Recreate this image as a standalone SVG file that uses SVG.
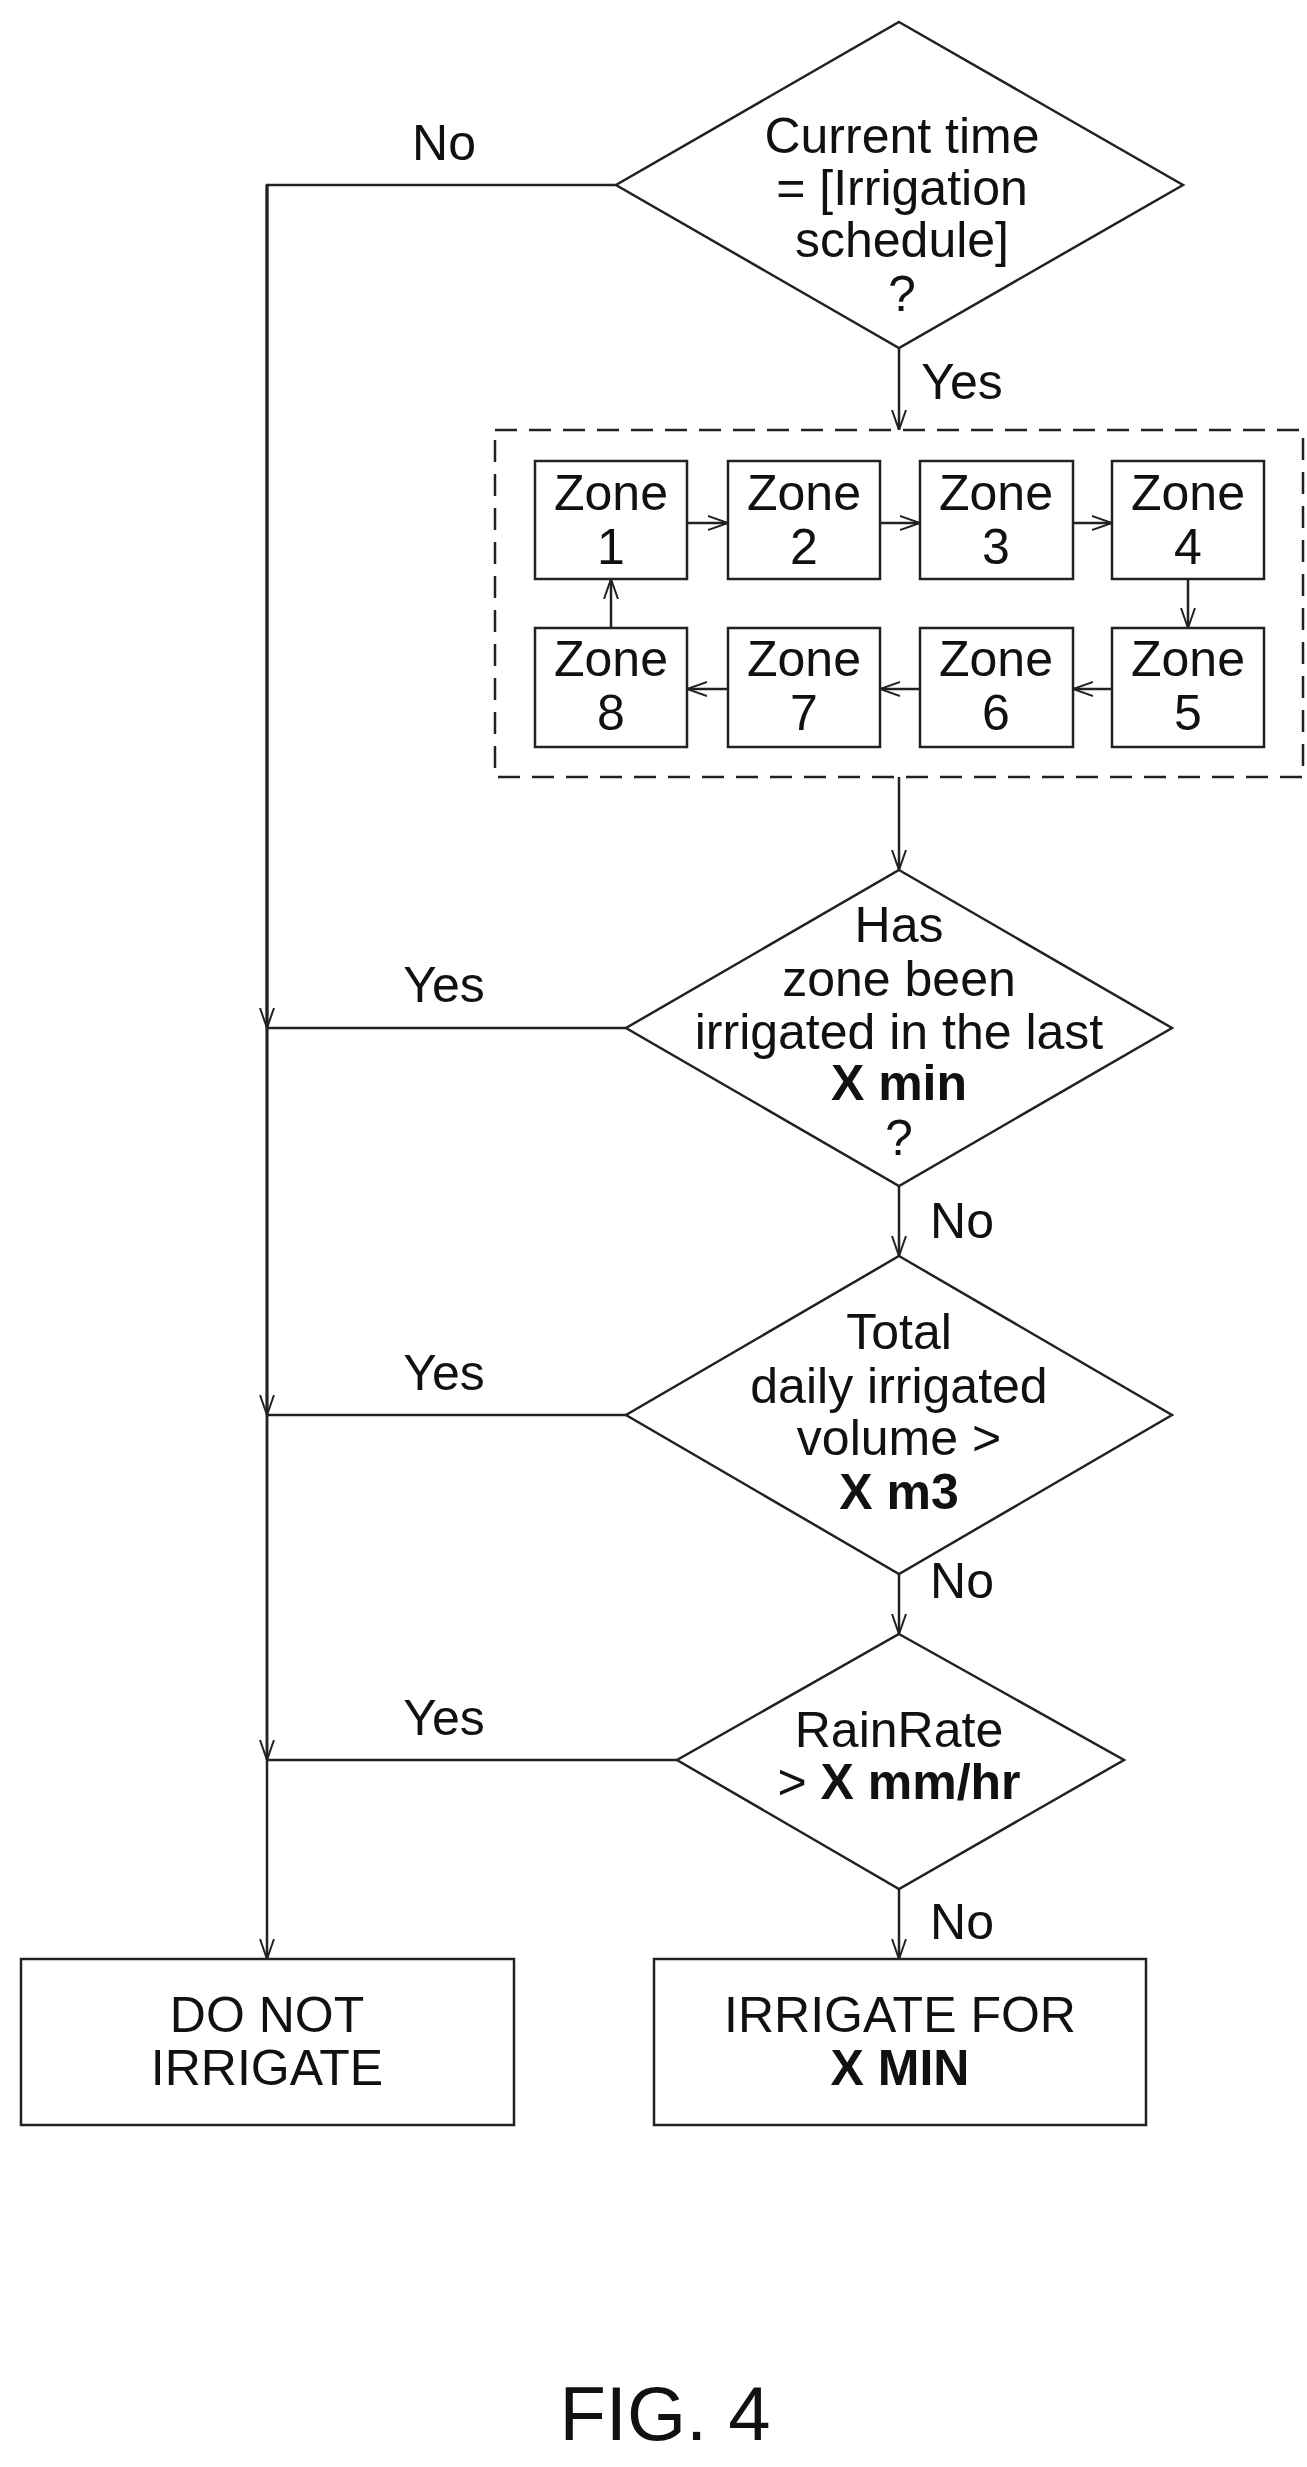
<svg xmlns="http://www.w3.org/2000/svg" width="1307" height="2467" viewBox="0 0 1307 2467">
<style>
text{font-family:"Liberation Sans",Arial,sans-serif;font-size:50px;fill:#111;text-anchor:middle}
.b{font-weight:bold}
.s{fill:#fff;stroke:#222;stroke-width:2.5}
.c{fill:none;stroke:#222;stroke-width:2.5}
</style>
<defs>
<marker id="a" viewBox="0 0 20 20" refX="20" refY="10" markerWidth="20" markerHeight="20" markerUnits="userSpaceOnUse" orient="auto">
<path d="M0,3 L20,10 L0,17" fill="none" stroke="#222" stroke-width="2"/>
</marker>
</defs>
<g id="connectors" class="c">
<path d="M616,185 H267 V1959" marker-end="url(#a)"/>
<path d="M267,185 V1028" marker-end="url(#a)"/>
<path d="M267,185 V1415" marker-end="url(#a)"/>
<path d="M267,185 V1760" marker-end="url(#a)"/>
<path d="M626,1028 H267"/>
<path d="M626,1415 H267"/>
<path d="M677,1760 H267"/>
<path d="M899,348 V430" marker-end="url(#a)"/>
<path d="M899,777 V870" marker-end="url(#a)"/>
<path d="M899,1186 V1256" marker-end="url(#a)"/>
<path d="M899,1574 V1634" marker-end="url(#a)"/>
<path d="M899,1889 V1959" marker-end="url(#a)"/>
<path d="M687,523 H728" marker-end="url(#a)"/>
<path d="M880,523 H920" marker-end="url(#a)"/>
<path d="M1073,523 H1112" marker-end="url(#a)"/>
<path d="M1188,579 V628" marker-end="url(#a)"/>
<path d="M1112,689 H1073" marker-end="url(#a)"/>
<path d="M920,689 H880" marker-end="url(#a)"/>
<path d="M728,689 H687" marker-end="url(#a)"/>
<path d="M611,628 V579" marker-end="url(#a)"/>
</g>
<g id="labels">
<text x="444" y="160">No</text>
<text x="962" y="399">Yes</text>
<text x="444" y="1002">Yes</text>
<text x="962" y="1238">No</text>
<text x="444" y="1390">Yes</text>
<text x="962" y="1598">No</text>
<text x="444" y="1735">Yes</text>
<text x="962" y="1939">No</text>
</g>
<g id="d1">
<polygon class="s" points="899,22 1183,185 899,348 616,185"/>
<text x="902" y="153">Current time</text>
<text x="902" y="205">= [Irrigation</text>
<text x="902" y="257">schedule]</text>
<text x="902" y="311">?</text>
</g>
<g id="zones">
<rect x="495" y="430" width="808" height="347" fill="none" stroke="#222" stroke-width="2.5" stroke-dasharray="22,12"/>
</g>
<g id="z1"><rect class="s" x="535" y="461" width="152" height="118"/><text x="611" y="510">Zone</text><text x="611" y="564">1</text></g>
<g id="z2"><rect class="s" x="728" y="461" width="152" height="118"/><text x="804" y="510">Zone</text><text x="804" y="564">2</text></g>
<g id="z3"><rect class="s" x="920" y="461" width="153" height="118"/><text x="996" y="510">Zone</text><text x="996" y="564">3</text></g>
<g id="z4"><rect class="s" x="1112" y="461" width="152" height="118"/><text x="1188" y="510">Zone</text><text x="1188" y="564">4</text></g>
<g id="z8"><rect class="s" x="535" y="628" width="152" height="119"/><text x="611" y="676">Zone</text><text x="611" y="730">8</text></g>
<g id="z7"><rect class="s" x="728" y="628" width="152" height="119"/><text x="804" y="676">Zone</text><text x="804" y="730">7</text></g>
<g id="z6"><rect class="s" x="920" y="628" width="153" height="119"/><text x="996" y="676">Zone</text><text x="996" y="730">6</text></g>
<g id="z5"><rect class="s" x="1112" y="628" width="152" height="119"/><text x="1188" y="676">Zone</text><text x="1188" y="730">5</text></g>
<g id="d2">
<polygon class="s" points="899,870 1172,1028 899,1186 626,1028"/>
<text x="899" y="942">Has</text>
<text x="899" y="996">zone been</text>
<text x="899" y="1049">irrigated in the last</text>
<text x="899" y="1100" class="b">X min</text>
<text x="899" y="1155">?</text>
</g>
<g id="d3">
<polygon class="s" points="899,1256 1172,1415 899,1574 626,1415"/>
<text x="899" y="1349">Total</text>
<text x="899" y="1403">daily irrigated</text>
<text x="899" y="1455">volume &gt;</text>
<text x="899" y="1509" class="b">X m3</text>
</g>
<g id="d4">
<polygon class="s" points="899,1634 1124,1760 899,1889 677,1760"/>
<text x="899" y="1747">RainRate</text>
<text x="899" y="1799">&gt; <tspan class="b">X mm/hr</tspan></text>
</g>
<g id="no">
<rect class="s" x="21" y="1959" width="493" height="166"/>
<text x="267" y="2032">DO NOT</text>
<text x="267" y="2085">IRRIGATE</text>
</g>
<g id="yes">
<rect class="s" x="654" y="1959" width="492" height="166"/>
<text x="900" y="2032">IRRIGATE FOR</text>
<text x="900" y="2085" class="b">X MIN</text>
</g>
<text x="665" y="2440" style="font-size:76px">FIG. 4</text>
</svg>
